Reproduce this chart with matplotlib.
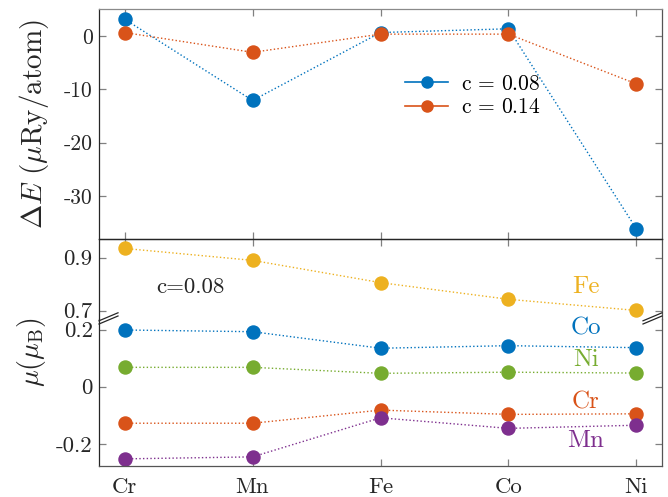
import matplotlib
matplotlib.use("Agg")
import matplotlib.pyplot as plt
from matplotlib.lines import Line2D

plt.rcParams['font.family'] = ['cmr10', 'DejaVu Serif']
plt.rcParams['mathtext.fontset'] = 'cm'
plt.rcParams['axes.unicode_minus'] = False

# ---- data ----
elements = ['Cr', 'Mn', 'Fe', 'Co', 'Ni']
x = [1, 2, 3, 4, 5]

dE_008 = [3.1, -12.1, 0.6, 1.3, -36.1]
dE_014 = [0.6, -3.1, 0.3, 0.3, -9.0]

mu_Fe = [0.935, 0.890, 0.806, 0.743, 0.701]
mu_Co = [0.199, 0.193, 0.135, 0.144, 0.137]
mu_Ni = [0.068, 0.068, 0.047, 0.051, 0.048]
mu_Cr = [-0.128, -0.128, -0.082, -0.097, -0.095]
mu_Mn = [-0.253, -0.246, -0.109, -0.146, -0.135]

top_yticks = [0, -10, -20, -30]
top_ylabels = ['0', '-10', '-20', '-30']
up_yticks = [0.7, 0.9]
up_ylabels = ['0.7', '0.9']
low_yticks = [-0.2, 0, 0.2]
low_ylabels = ['-0.2', '0', '0.2']

blue = '#0072BD'
orange = '#D95319'
yellow = '#EDB120'
purple = '#7E2F8E'
green = '#77AC30'

W, H = 668, 497
fig = plt.figure(figsize=(W / 100, H / 100), dpi=100)

def rect(l, t, r, b):
    return [l / W, 1 - b / H, (r - l) / W, (b - t) / H]

L, R = 99, 662
ax_top = fig.add_axes(rect(L, 9, R, 239))
ax_up = fig.add_axes(rect(L, 239, R, 318.5))
ax_low = fig.add_axes(rect(L, 318.5, R, 466))

ms = 9.4
lw = 1.0
tick_col = '#808080'
spine_col = '#262626'

def style(ax):
    ax.set_xlim(0.8, 5.2)
    ax.set_xticks(x)
    ax.tick_params(direction='in', length=4.7, width=0.9, color=tick_col,
                   labelsize=15, top=True, right=True, labelcolor='#262626')
    ax.tick_params(axis='y', pad=4.5)
    for s in ax.spines.values():
        s.set_color(spine_col)
        s.set_linewidth(0.9)
    ax.patch.set_alpha(0)

for ax in (ax_top, ax_up, ax_low):
    style(ax)

# top panel
ax_top.plot(x, dE_008, ':', color=blue, lw=lw, marker='o', ms=ms, label='c = 0.08')
ax_top.plot(x, dE_014, ':', color=orange, lw=lw, marker='o', ms=ms, label='c = 0.14')
ax_top.set_ylim(-38, 5)
ax_top.set_yticks(top_yticks)
ax_top.set_yticklabels(top_ylabels, fontsize=15.5)
ax_top.set_xticklabels([])
ax_top.spines['top'].set_color('#8a8a8a')
ax_top.spines['right'].set_color('#555555')

h1 = Line2D([], [], color=blue, lw=1.2, marker='o', ms=ms * 0.85)
h2 = Line2D([], [], color=orange, lw=1.2, marker='o', ms=ms * 0.85)
ax_top.legend([h1, h2], [r'$\mathrm{c}\,=\,0.08$', r'$\mathrm{c}\,=\,0.14$'],
              loc='upper left', bbox_to_anchor=((405 - L) / (R - L), 1 - (74 - 9) / 230),
              frameon=False, fontsize=15.5, handlelength=2.0, handletextpad=0.6,
              labelspacing=0.2, borderpad=0, borderaxespad=0)

# bottom upper segment (Fe)
ax_up.plot(x, mu_Fe, ':', color=yellow, lw=lw, marker='o', ms=ms)
ax_up.set_ylim(0.6706, 0.9706)
ax_up.set_yticks(up_yticks)
ax_up.set_yticklabels(up_ylabels, fontsize=16.5)
ax_up.set_xticklabels([])
ax_up.tick_params(axis='x', bottom=False)
ax_up.spines['bottom'].set_visible(False)
ax_up.spines['right'].set_color('#555555')

# bottom lower segment
for vals, col in ((mu_Co, blue), (mu_Ni, green), (mu_Cr, orange), (mu_Mn, purple)):
    ax_low.plot(x, vals, ':', color=col, lw=lw, marker='o', ms=ms)
ax_low.set_ylim(-0.278, 0.2393)
ax_low.set_yticks(low_yticks)
ax_low.set_yticklabels(low_ylabels, fontsize=16.5)
ax_low.tick_params(axis='x', top=False, pad=8)
ax_low.set_xticklabels(elements, fontsize=16.5)
ax_low.spines['top'].set_visible(False)
ax_low.spines['right'].set_color('#555555')
ax_low.spines['bottom'].set_color('#555555')

# break marks
for x0 in (L, 643):
    for dy in (0, -3.2):
        fig.add_artist(Line2D([x0 / W, (x0 + 19) / W],
                              [1 - (324 + dy) / H, 1 - (316 + dy) / H],
                              color='#262626', lw=0.9))

# axis labels
fig.text(34 / W, 1 - 124 / H, r'$\Delta E\ (\mu\mathrm{Ry/atom})$', rotation=90,
         ha='center', va='center', fontsize=21, color='#262626')
fig.text(32 / W, 1 - 352 / H, r'$\mu(\mu_\mathrm{B})$', rotation=90,
         ha='center', va='center', fontsize=20, color='#262626')

fig.text(190 / W, 1 - 287 / H, 'c=0.08', ha='center', va='center',
         fontsize=16.5, color='#262626')

for name, col, yy in (('Fe', yellow, 286.7), ('Co', blue, 328.3), ('Ni', green, 360),
                      ('Cr', orange, 402.3), ('Mn', purple, 441)):
    fig.text(585.7 / W, 1 - yy / H, name, ha='center', va='center',
             fontsize=18, color=col)

fig.savefig('out.png', dpi=100)
